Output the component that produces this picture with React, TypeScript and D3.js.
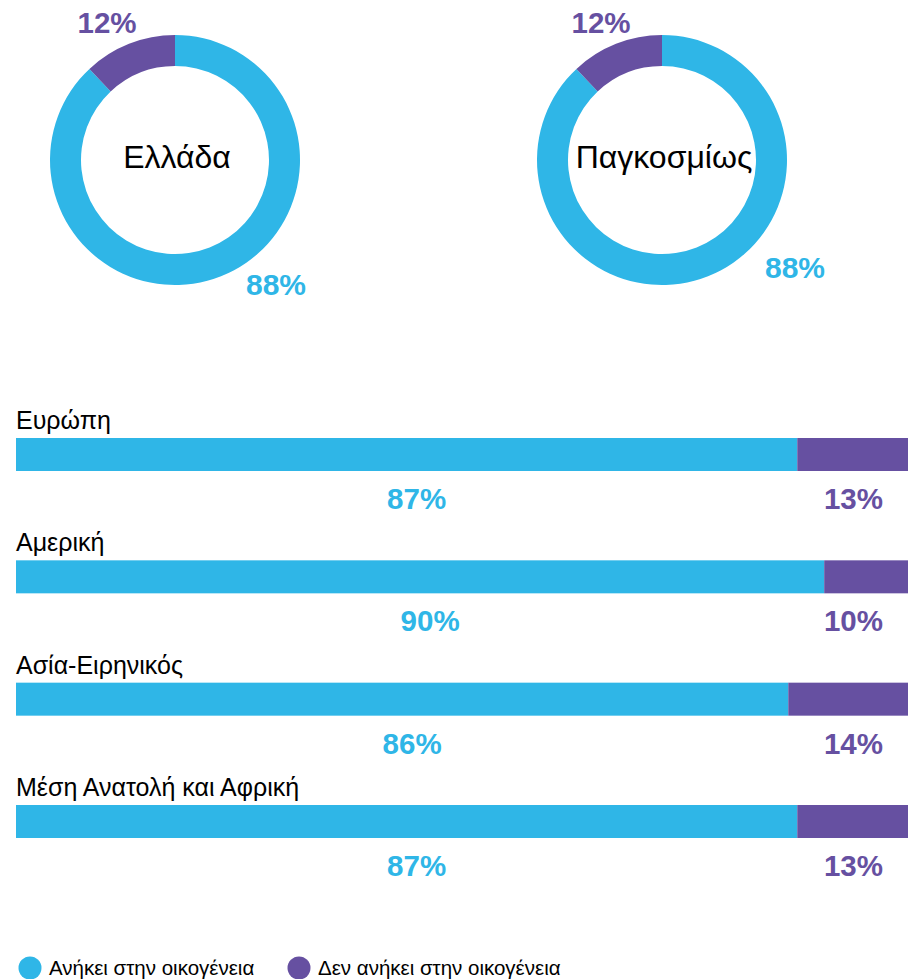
import React from "react";
import * as d3 from "d3";

const donutNames = ["Ελλάδα", "Παγκοσμίως"];
const donutBelong = [88, 88];
const donutNot = [12, 12];

const regions = ["Ευρώπη", "Αμερική", "Ασία-Ειρηνικός", "Μέση Ανατολή και Αφρική"];
const regionBelong = [87, 90, 86, 87];
const regionNot = [13, 10, 14, 13];

const legendLabels = ["Ανήκει στην οικογένεια", "Δεν ανήκει στην οικογένεια"];

const BLUE = "#2FB6E7";
const PURPLE = "#6650A1";
const FONT = "'Liberation Sans', Arial, Helvetica, sans-serif";

const W = 908;
const H = 979;

// layout of the two donuts
const donutLayout = [
  { cx: 175, cy: 160, notDx: -68, notDy: -127, belDx: 101, belDy: 135 },
  { cx: 662, cy: 160, notDx: -61, notDy: -127, belDx: 133, belDy: 118 },
];

export default function App() {
  const pie = d3
    .pie<number>()
    .sort(null)
    .value((d) => d);
  const arc = d3.arc<d3.PieArcDatum<number>>().innerRadius(94).outerRadius(125);

  const x = d3.scaleLinear().domain([0, 100]).range([16, 914]);
  const rowY = d3
    .scaleLinear()
    .domain([0, regions.length - 1])
    .range([438, 805]);
  const barH = 33;

  return (
    <svg
      width={W}
      height={H}
      style={{ position: "absolute", left: 0, top: 0, background: "#fff" }}
      fontFamily={FONT}
    >
      {donutNames.map((name, i) => {
        const L = donutLayout[i];
        const arcs = pie([donutBelong[i], donutNot[i]]);
        return (
          <g key={name} transform={`translate(${L.cx},${L.cy})`}>
            {arcs.map((a, j) => (
              <path key={j} d={arc(a) || ""} fill={j === 0 ? BLUE : PURPLE} />
            ))}
            <text x={2} y={8} textAnchor="middle" fontSize={32} fill="#000">
              {name}
            </text>
            <text
              x={L.notDx}
              y={L.notDy}
              textAnchor="middle"
              fontSize={29.5}
              fontWeight="bold"
              fill={PURPLE}
            >
              {donutNot[i]}%
            </text>
            <text
              x={L.belDx}
              y={L.belDy}
              textAnchor="middle"
              fontSize={30}
              fontWeight="bold"
              fill={BLUE}
            >
              {donutBelong[i]}%
            </text>
          </g>
        );
      })}

      {regions.map((r, i) => {
        const y0 = rowY(i);
        const b = regionBelong[i];
        const n = regionNot[i];
        return (
          <g key={r}>
            <text x={16} y={y0 - 9} fontSize={25} fill="#000">
              {r}
            </text>
            <rect x={x(0)} y={y0} width={x(b) - x(0)} height={barH} fill={BLUE} />
            <rect x={x(b)} y={y0} width={x(b + n) - x(b)} height={barH} fill={PURPLE} />
            <text
              x={(x(0) + x(b)) / 2 + 10}
              y={y0 + 71}
              textAnchor="middle"
              fontSize={29.5}
              fontWeight="bold"
              fill={BLUE}
            >
              {b}%
            </text>
            <text
              x={883}
              y={y0 + 71}
              textAnchor="end"
              fontSize={29.5}
              fontWeight="bold"
              fill={PURPLE}
            >
              {n}%
            </text>
          </g>
        );
      })}

      {legendLabels.map((l, i) => {
        const lx = i === 0 ? 30 : 299;
        return (
          <g key={l}>
            <circle cx={lx} cy={968} r={11.5} fill={i === 0 ? BLUE : PURPLE} />
            <text x={lx + 19} y={975} fontSize={20.5} fill="#000">
              {l}
            </text>
          </g>
        );
      })}
    </svg>
  );
}
